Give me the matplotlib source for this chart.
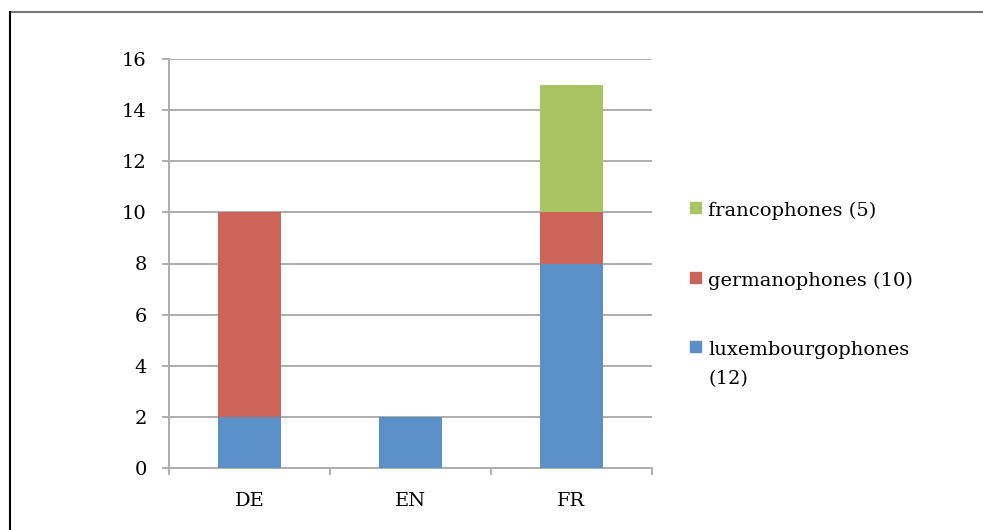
import matplotlib
matplotlib.use("Agg")
import matplotlib.pyplot as plt
from matplotlib.lines import Line2D
from matplotlib.patches import Rectangle
import numpy as np

# données
categories = ["DE", "EN", "FR"]
luxembourgophones = [2, 2, 8]
germanophones = [8, 0, 2]
francophones = [0, 0, 5]
labels = ["luxembourgophones\n(12)", "germanophones (10)", "francophones (5)"]
colors = ["#5B90C6", "#CC6459", "#A8C464"]

plt.rcParams['font.family'] = ['DejaVu Serif']
grid_col = "#ADADAD"
W, H = 983, 530

fig = plt.figure(figsize=(W / 100, H / 100), dpi=100)
ax = fig.add_axes([169 / W, 1 - 468 / H, (652 - 169) / W, (468 - 59) / H])

x = np.arange(len(categories))
bottom = np.zeros(len(categories))
for vals, lab, col in zip([luxembourgophones, germanophones, francophones], labels, colors):
    ax.bar(x, vals, width=0.39, bottom=bottom, color=col, label=lab, zorder=3)
    bottom += np.array(vals)

ax.set_xlim(-0.5, len(categories) - 0.5)
ax.set_ylim(0, 16)
ax.set_yticks(range(0, 17, 2))
ax.yaxis.grid(True, color=grid_col, linewidth=1.4, zorder=0)
ax.set_axisbelow(True)

ax.set_xticks(x)
ax.set_xticklabels(categories, fontsize=14)
ax.set_xticks(np.arange(-0.5, len(categories), 1), minor=True)
ax.tick_params(axis='x', which='major', length=0, pad=17)
ax.tick_params(axis='x', which='minor', length=5, width=1.4, color=grid_col)
ax.tick_params(axis='y', length=5, width=1.4, color=grid_col, pad=11, labelsize=14)

for s in ["top", "right"]:
    ax.spines[s].set_visible(False)
for s in ["left", "bottom"]:
    ax.spines[s].set_color(grid_col)
    ax.spines[s].set_linewidth(1.4)

# légende dessinée à la main (ordre inversé, carré aligné sur la première ligne)
legend_y = [355, 286, 216]  # lignes de base en pixels depuis le haut
for lab, col, yb in zip(labels, colors, legend_y):
    fig.add_artist(Rectangle((690 / W, 1 - (yb - 3) / H), 11 / W, 11 / H,
                             transform=fig.transFigure, color=col))
    for i, line in enumerate(lab.split("\n")):
        fig.text(708 / W, 1 - (yb + i * 29) / H, line, fontsize=14,
                 va='baseline', ha='left')

# cadre de la page
fig.add_artist(Line2D([10 / W, 1.0], [1 - 12 / H, 1 - 12 / H], color="#777777", linewidth=1.5))
fig.add_artist(Line2D([10 / W, 10 / W], [0.0, 1 - 12 / H], color="black", linewidth=1.5))

fig.savefig("out.png", dpi=100)
